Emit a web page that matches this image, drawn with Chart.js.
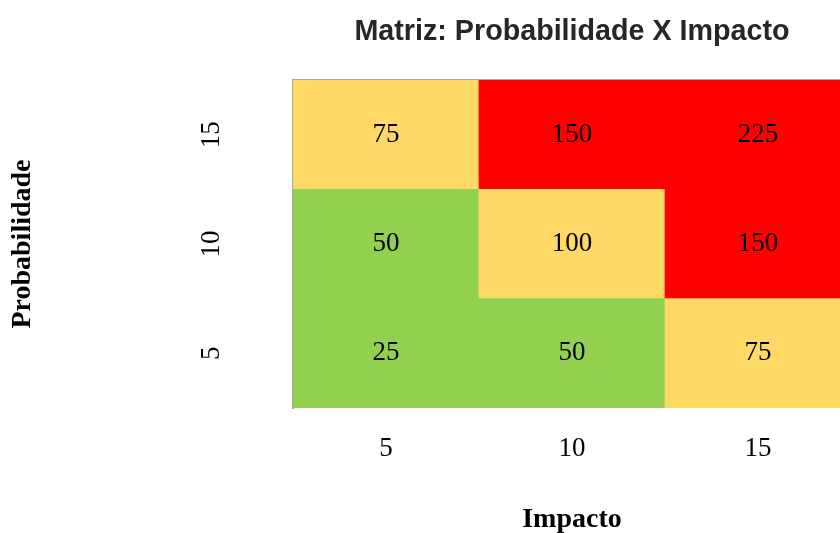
<!DOCTYPE html>
<html>
<head>
<meta charset="utf-8">
<script src="https://cdn.jsdelivr.net/npm/chart.js@4.4.1/dist/chart.umd.min.js"></script>
<style>
  html, body { margin: 0; padding: 0; overflow: hidden; background: #fff; }
</style>
</head>
<body>
<canvas id="matriz" width="851" height="533"></canvas>
<script>
const impacto = ["5", "10", "15"];
const probabilidade = ["5", "10", "15"];
// risk value per cell, one array per probability row (bottom to top)
const risco5 = [25, 50, 75];
const risco10 = [50, 100, 150];
const risco15 = [75, 150, 225];
const riscos = [risco5, risco10, risco15];

const verde = "#92D050";
const amarelo = "#FFD966";
const vermelho = "#FF0000";

function corRisco(v) {
  if (v >= 150) return vermelho;
  if (v >= 75) return amarelo;
  return verde;
}

const serif = "'Liberation Serif', 'Times New Roman', serif";

// writes the risk number in the middle of each cell
const valoresPlugin = {
  id: "valores",
  afterDatasetsDraw(chart) {
    const ctx = chart.ctx;
    ctx.save();
    ctx.font = `27px ${serif}`;
    ctx.fillStyle = "#000";
    ctx.textAlign = "center";
    ctx.textBaseline = "middle";
    chart.data.datasets.forEach((ds, i) => {
      chart.getDatasetMeta(i).data.forEach((bar, j) => {
        const c = bar.getCenterPoint();
        ctx.fillText(String(ds.risco[j]), c.x, c.y);
      });
    });
    ctx.restore();
  },
};

new Chart(document.getElementById("matriz"), {
  type: "bar",
  data: {
    labels: impacto,
    datasets: riscos.map((linha, r) => ({
      label: "Probabilidade " + probabilidade[r],
      data: linha.map(() => [r, r + 1]),
      risco: linha,
      backgroundColor: linha.map(corRisco),
      borderWidth: 0,
      barPercentage: 1,
      categoryPercentage: 1,
      grouped: false,
    })),
  },
  options: {
    responsive: false,
    animation: false,
    layout: { padding: 0 },
    plugins: {
      legend: { display: false },
      tooltip: { enabled: false },
      title: {
        display: true,
        text: "Matriz: Probabilidade X Impacto",
        fullSize: false,
        color: "#262626",
        font: { family: "'Liberation Sans', Arial, sans-serif", size: 28.7, weight: "bold" },
        padding: { top: 15, bottom: 30.6 },
      },
    },
    scales: {
      x: {
        type: "category",
        grid: { display: false, drawTicks: false },
        border: { display: false },
        ticks: { color: "#000", font: { family: serif, size: 27 }, padding: 25 },
        title: {
          display: true,
          text: "Impacto",
          color: "#000",
          font: { family: serif, size: 28, weight: "bold" },
          padding: { top: 0, bottom: -4 },
        },
        afterFit: (s) => { s.height = 125; },
      },
      xTopo: {
        type: "category",
        position: "top",
        grid: { display: false, drawTicks: false },
        border: { display: true, color: "#A6A6A6", width: 2 },
        ticks: { display: false },
        afterFit: (s) => { s.height = 0; },
      },
      y: {
        min: 0,
        max: 3,
        grid: { display: false, drawTicks: false },
        border: { display: true, color: "#A6A6A6", width: 2 },
        afterBuildTicks: (s) => {
          s.ticks = probabilidade.map((p, r) => ({ value: r + 0.5 }));
        },
        ticks: {
          callback: (v, i) => probabilidade[i],
          minRotation: 90,
          maxRotation: 90,
          crossAlign: "center",
          padding: 68,
          color: "#000",
          font: { family: serif, size: 27 },
        },
        title: {
          display: true,
          text: "Probabilidade",
          color: "#000",
          font: { family: serif, size: 28, weight: "bold" },
          padding: { top: 6, bottom: 0 },
        },
        afterFit: (s) => {
          s.width = 293;
          s.paddingTop = 0;
          s.paddingBottom = 0;
        },
      },
    },
  },
  plugins: [valoresPlugin],
});
</script>
</body>
</html>
